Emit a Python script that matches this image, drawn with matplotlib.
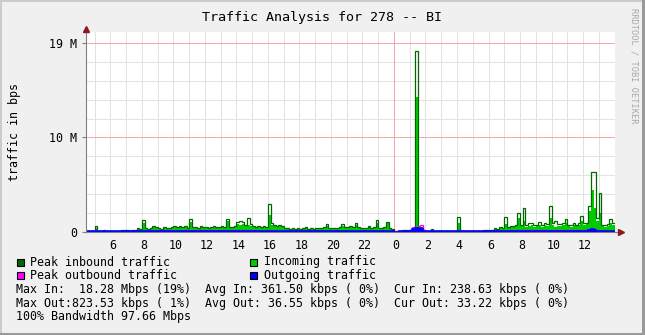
import numpy as np
import matplotlib
matplotlib.use("Agg")
import matplotlib.pyplot as plt
from matplotlib.patches import Rectangle
import matplotlib.transforms as mtransforms

# 10-minute samples, values in Mbit/s (1e6 bps), hours counted from day-1 midnight
start_hour = 4.5
step_hour = 1 / 6

incoming = [
    0.06, 0.05, 0.08,                         # 4h30
    0.45, 0.10, 0.06, 0.20, 0.08, 0.05,       # 5h
    0.05, 0.06, 0.04, 0.08, 0.20, 0.15,
    0.18, 0.10, 0.12, 0.15, 0.35, 0.20,
    1.00, 0.30, 0.25, 0.35, 0.50, 0.45,       # 8h
    0.30, 0.25, 0.45, 0.30, 0.35, 0.40,
    0.50, 0.45, 0.55, 0.40, 0.50, 0.35,
    1.10, 0.40, 0.45, 0.35, 0.50, 0.40,
    0.45, 0.35, 0.40, 0.50, 0.45, 0.40,       # 12h
    0.50, 0.45, 1.20, 0.45, 0.40, 0.50,
    0.80, 0.75, 0.85, 0.60, 0.70, 0.65,
    0.50, 0.45, 0.55, 0.40, 0.50, 0.45,
    1.80, 0.70, 0.60, 0.55, 0.60, 0.50,       # 16h
    0.35, 0.30, 0.25, 0.30, 0.25, 0.30,
    0.25, 0.30, 0.40, 0.25, 0.30, 0.25,
    0.30, 0.35, 0.30, 0.40, 0.60, 0.35,
    0.30, 0.35, 0.30, 0.40, 0.60, 0.45,       # 20h
    0.40, 0.50, 0.45, 0.70, 0.40, 0.35,
    0.30, 0.35, 0.55, 0.30, 0.45, 1.00,
    0.30, 0.35, 0.40, 0.90, 0.30, 0.25,
    0.05, 0.04, 0.05, 0.15, 0.20, 0.15,       # 0h
    0.20, 0.25, 14.30, 0.30, 0.40, 0.20,
    0.06, 0.05, 0.25, 0.06, 0.05, 0.06,
    0.05, 0.06, 0.04, 0.05, 0.06, 0.05,
    1.00, 0.10, 0.06, 0.05, 0.06, 0.05,       # 4h
    0.06, 0.08, 0.10, 0.06, 0.15, 0.12,
    0.15, 0.20, 0.30, 0.25, 0.45, 0.30,
    0.80, 0.45, 0.55, 0.50, 0.60, 1.50,
    0.60, 1.20, 0.55, 0.65, 0.70, 0.55,       # 8h
    0.60, 0.75, 0.55, 0.70, 0.65, 1.50,
    0.70, 0.55, 0.65, 0.60, 0.75, 1.00,
    0.60, 0.55, 0.70, 0.60, 0.75, 1.20,
    0.75, 0.85, 2.20, 4.40, 2.50, 1.20,       # 12h
    2.00, 0.60, 0.55, 0.65, 0.90, 0.70,
]

peak_in = [
    0.10, 0.08, 0.12,
    0.63, 0.15, 0.10, 0.26, 0.12, 0.08,
    0.08, 0.09, 0.07, 0.12, 0.26, 0.20,
    0.24, 0.15, 0.17, 0.20, 0.42, 0.28,
    1.24, 0.40, 0.33, 0.45, 0.60, 0.55,
    0.38, 0.33, 0.55, 0.38, 0.45, 0.50,
    0.62, 0.55, 0.66, 0.50, 0.62, 0.45,
    1.34, 0.52, 0.56, 0.45, 0.62, 0.50,
    0.56, 0.45, 0.50, 0.62, 0.56, 0.50,
    0.62, 0.56, 1.38, 0.56, 0.50, 0.62,
    1.10, 1.12, 1.10, 0.75, 1.45, 0.80,
    0.62, 0.56, 0.68, 0.50, 0.62, 0.56,
    2.93, 1.00, 0.75, 0.68, 0.75, 0.62,
    0.45, 0.38, 0.33, 0.38, 0.33, 0.38,
    0.33, 0.38, 0.50, 0.33, 0.38, 0.33,
    0.38, 0.45, 0.38, 0.50, 0.80, 0.45,
    0.38, 0.45, 0.38, 0.50, 0.80, 0.56,
    0.50, 0.62, 0.56, 0.90, 0.50, 0.45,
    0.38, 0.45, 0.63, 0.38, 0.56, 1.27,
    0.38, 0.45, 0.50, 1.10, 0.38, 0.33,
    0.07, 0.06, 0.07, 0.20, 0.26, 0.20,
    0.26, 0.33, 19.15, 0.40, 0.50, 0.26,
    0.08, 0.07, 0.35, 0.08, 0.07, 0.08,
    0.07, 0.08, 0.06, 0.07, 0.08, 0.07,
    1.60, 0.14, 0.08, 0.07, 0.08, 0.07,
    0.08, 0.11, 0.14, 0.08, 0.20, 0.16,
    0.20, 0.26, 0.40, 0.33, 0.56, 0.40,
    1.55, 0.56, 0.68, 0.62, 0.75, 1.97,
    0.75, 2.50, 0.70, 1.00, 0.95, 0.70,
    0.75, 1.05, 0.70, 0.90, 0.85, 2.75,
    0.90, 1.20, 0.85, 0.80, 0.95, 1.37,
    0.75, 0.70, 0.90, 0.75, 0.95, 1.70,
    0.95, 1.00, 2.70, 6.40, 6.40, 1.50,
    4.10, 0.75, 0.70, 0.85, 1.34, 0.90,
]

outgoing = [
    0.06, 0.06, 0.07,
    0.08, 0.07, 0.08, 0.07, 0.08, 0.07,
    0.07, 0.08, 0.07, 0.08, 0.07, 0.08,
    0.08, 0.09, 0.08, 0.09, 0.09, 0.08,
    0.10, 0.09, 0.10, 0.11, 0.10, 0.11,
    0.10, 0.11, 0.10, 0.11, 0.11, 0.10,
    0.11, 0.10, 0.12, 0.11, 0.11, 0.12,
    0.12, 0.11, 0.10, 0.11, 0.12, 0.11,
    0.11, 0.12, 0.11, 0.12, 0.11, 0.12,
    0.11, 0.12, 0.11, 0.12, 0.12, 0.11,
    0.12, 0.11, 0.12, 0.12, 0.13, 0.12,
    0.11, 0.10, 0.11, 0.10, 0.11, 0.10,
    0.12, 0.11, 0.10, 0.10, 0.11, 0.10,
    0.09, 0.10, 0.09, 0.09, 0.10, 0.09,
    0.09, 0.08, 0.09, 0.08, 0.09, 0.08,
    0.08, 0.09, 0.08, 0.08, 0.09, 0.08,
    0.08, 0.08, 0.09, 0.08, 0.08, 0.09,
    0.08, 0.09, 0.08, 0.08, 0.09, 0.08,
    0.08, 0.08, 0.08, 0.09, 0.08, 0.08,
    0.08, 0.07, 0.08, 0.07, 0.08, 0.07,
    0.05, 0.05, 0.06, 0.08, 0.10, 0.09,
    0.12, 0.35, 0.40, 0.40, 0.35, 0.12,
    0.07, 0.08, 0.06, 0.06, 0.07, 0.06,
    0.06, 0.06, 0.07, 0.06, 0.06, 0.07,
    0.07, 0.06, 0.06, 0.06, 0.07, 0.06,
    0.06, 0.07, 0.06, 0.07, 0.07, 0.08,
    0.07, 0.08, 0.08, 0.09, 0.09, 0.10,
    0.10, 0.11, 0.10, 0.12, 0.11, 0.12,
    0.12, 0.11, 0.12, 0.11, 0.12, 0.12,
    0.12, 0.13, 0.12, 0.13, 0.12, 0.13,
    0.12, 0.12, 0.13, 0.12, 0.13, 0.12,
    0.12, 0.11, 0.12, 0.13, 0.12, 0.13,
    0.12, 0.13, 0.20, 0.30, 0.25, 0.15,
    0.12, 0.11, 0.10, 0.10, 0.09, 0.08,
]

peak_out = [
    0.09, 0.09, 0.10,
    0.12, 0.10, 0.12, 0.10, 0.12, 0.10,
    0.10, 0.12, 0.10, 0.12, 0.10, 0.12,
    0.12, 0.13, 0.12, 0.13, 0.13, 0.12,
    0.15, 0.13, 0.15, 0.16, 0.15, 0.16,
    0.15, 0.16, 0.15, 0.16, 0.16, 0.15,
    0.16, 0.15, 0.17, 0.16, 0.16, 0.17,
    0.17, 0.16, 0.15, 0.16, 0.17, 0.16,
    0.16, 0.17, 0.16, 0.17, 0.16, 0.17,
    0.16, 0.17, 0.16, 0.17, 0.17, 0.16,
    0.17, 0.16, 0.17, 0.17, 0.18, 0.17,
    0.16, 0.15, 0.16, 0.15, 0.16, 0.15,
    0.17, 0.16, 0.15, 0.15, 0.16, 0.15,
    0.13, 0.15, 0.13, 0.13, 0.15, 0.13,
    0.13, 0.12, 0.13, 0.12, 0.13, 0.12,
    0.12, 0.13, 0.12, 0.12, 0.13, 0.12,
    0.12, 0.12, 0.13, 0.12, 0.12, 0.13,
    0.12, 0.13, 0.12, 0.12, 0.13, 0.12,
    0.12, 0.12, 0.12, 0.13, 0.12, 0.12,
    0.12, 0.10, 0.12, 0.10, 0.12, 0.10,
    0.07, 0.07, 0.09, 0.12, 0.15, 0.13,
    0.18, 0.50, 0.45, 0.60, 0.75, 0.20,
    0.10, 0.12, 0.09, 0.09, 0.10, 0.09,
    0.09, 0.09, 0.10, 0.09, 0.09, 0.10,
    0.10, 0.09, 0.09, 0.09, 0.10, 0.09,
    0.09, 0.10, 0.09, 0.10, 0.10, 0.12,
    0.10, 0.12, 0.12, 0.13, 0.13, 0.15,
    0.15, 0.16, 0.15, 0.17, 0.16, 0.17,
    0.17, 0.16, 0.17, 0.16, 0.17, 0.17,
    0.17, 0.18, 0.17, 0.18, 0.17, 0.18,
    0.17, 0.17, 0.18, 0.17, 0.18, 0.17,
    0.17, 0.16, 0.17, 0.18, 0.17, 0.18,
    0.17, 0.18, 0.28, 0.36, 0.32, 0.20,
    0.17, 0.15, 0.14, 0.14, 0.13, 0.12,
]

x_label_hours = [6, 8, 10, 12, 14, 16, 18, 20, 22, 24, 26, 28, 30, 32, 34, 36]
y_major = [10e6, 20e6]
y_minor = [2e6, 4e6, 6e6, 8e6, 12e6, 14e6, 16e6, 18e6]

legend_items = [
    ("Peak inbound traffic", "#006600"),
    ("Incoming traffic", "#00cc00"),
    ("Peak outbound traffic", "#ff00ff"),
    ("Outgoing traffic", "#0000ff"),
]
stats_lines = [
    "Max In:  18.28 Mbps (19%)  Avg In: 361.50 kbps ( 0%)  Cur In: 238.63 kbps ( 0%)",
    "Max Out:823.53 kbps ( 1%)  Avg Out: 36.55 kbps ( 0%)  Cur Out: 33.22 kbps ( 0%)",
    "100% Bandwidth 97.66 Mbps",
]

W, H = 645, 335
MONO = "DejaVu Sans Mono"
FS = 8.4
GRID = "#e2e2e2"
MGRID = "#f5a8a8"

fig = plt.figure(figsize=(W / 100, H / 100), dpi=100)
fig.patch.set_facecolor("#f0f0f0")

ax = fig.add_axes([86 / W, (H - 232) / H, (615 - 86) / W, 200 / H])
ax.set_facecolor("white")

edges = start_hour + step_hour * np.arange(len(incoming) + 1)
inc = np.array(incoming) * 1e6
pin = np.array(peak_in) * 1e6
out = np.array(outgoing) * 1e6
pout = np.array(peak_out) * 1e6

# grid, crisp 1px lines
gkw = dict(lw=0.72, antialiased=False)
for h in range(5, 38):
    if h != 24:
        ax.axvline(h, color=GRID, zorder=0, **gkw)
for v in y_minor:
    ax.axhline(v, color=GRID, zorder=0, **gkw)
ax.axvline(24, color=MGRID, zorder=0.5, **gkw)
for v in y_major:
    ax.axhline(v, color=MGRID, zorder=0.5, **gkw)

ax.stairs(inc, edges, fill=True, color="#00cc00", zorder=2)
ax.stairs(pin, edges, baseline=None, color="#006600", lw=0.9, zorder=3)
ax.stairs(pout, edges, baseline=None, color="#ff00ff", lw=0.9, zorder=4)
ax.stairs(out, edges, fill=True, color="#0000ff", zorder=5)
ax.stairs(out, edges, baseline=None, color="#0000ff", lw=1.2, zorder=5)

ax.set_xlim(4.45, 38.03)
ax.set_ylim(0, 21.16e6)

# ticks
ax.set_yticks([0] + y_major)
ax.set_yticklabels(["0"] + [f"{v / 2**20:.0f} M" for v in y_major])
ax.set_xticks(x_label_hours)
ax.set_xticklabels([str(h % 24) for h in x_label_hours])
ax.tick_params(axis="y", length=3, width=0.8, color="#808080", pad=3.5,
               labelsize=FS)
ax.tick_params(axis="x", length=0, pad=5, labelsize=FS)
shift = mtransforms.ScaledTranslation(2 / 100, 0, fig.dpi_scale_trans)
for lab in ax.get_xticklabels():
    lab.set_transform(lab.get_transform() + shift)
for lab in ax.get_xticklabels() + ax.get_yticklabels():
    lab.set_fontfamily(MONO)

for side in ["top", "right"]:
    ax.spines[side].set_visible(False)
for side in ["left", "bottom"]:
    ax.spines[side].set_color("#808080")
    ax.spines[side].set_linewidth(0.8)
    ax.spines[side].set_zorder(6)

# axis arrows
ax.plot([1.0, 1.012], [0, 0], transform=ax.transAxes, color="#808080",
        lw=0.8, clip_on=False, zorder=6)
ax.plot([1.012], [0], marker=">", ms=4.5, color="#8b1a1a",
        transform=ax.transAxes, clip_on=False, zorder=7)
ax.plot([0], [1.015], marker="^", ms=4.5, color="#8b1a1a",
        transform=ax.transAxes, clip_on=False, zorder=7)

# texts
fig.text(322 / W, 1 - 17 / H, "Traffic Analysis for 278 -- BI", family=MONO,
         fontsize=9.6, ha="center", va="center")
fig.text(15 / W, 1 - 132 / H, "traffic in bps", family=MONO, fontsize=FS,
         rotation=90, ha="center", va="center")
fig.text(634 / W, 1 - 8 / H, "RRDTOOL / TOBI OETIKER", family=MONO,
         fontsize=6.2, rotation=270, ha="center", va="top", color="#a8a8a8")

# legend
row_y = [262, 275.5]
col_x = [16.5, 249.5]
for i, (label, col) in enumerate(legend_items):
    x0 = col_x[i % 2]
    y0 = row_y[i // 2]
    fig.patches.append(Rectangle((x0 / W, 1 - (y0 + 3.5) / H), 7 / W, 7 / H,
                                 transform=fig.transFigure, facecolor=col,
                                 edgecolor="black", lw=0.8))
    fig.text((x0 + 14) / W, 1 - y0 / H, label, family=MONO, fontsize=FS,
             ha="left", va="center")
for j, line in enumerate(stats_lines):
    fig.text(16.5 / W, 1 - (289.5 + 13.6 * j) / H, line, family=MONO,
             fontsize=FS, ha="left", va="center")

# frame shading
shade = [((0, 0), W, 2, "#cbcbcb"), ((0, 0), 2, H, "#cbcbcb"),
         ((0, H - 2), W, 2, "#999999"), ((W - 3, 0), 3, H, "#999999")]
for (x0, y0), w, h, c in shade:
    fig.patches.append(Rectangle((x0 / W, 1 - (y0 + h) / H), w / W, h / H,
                                 transform=fig.transFigure, facecolor=c,
                                 edgecolor="none"))

fig.savefig("out.png", dpi=100, facecolor=fig.get_facecolor())
